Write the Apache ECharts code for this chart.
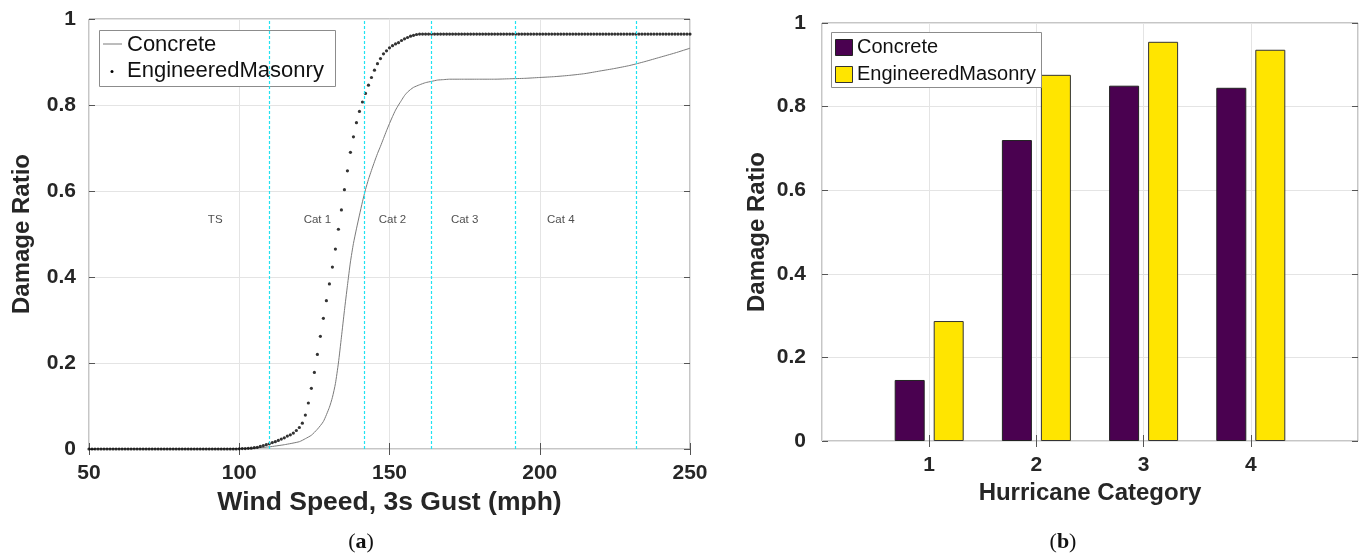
<!DOCTYPE html>
<html>
<head>
<meta charset="utf-8">
<script src="https://cdn.jsdelivr.net/npm/echarts/dist/echarts.min.js"></script>
<style>
  html, body { margin: 0; padding: 0; background: #ffffff; }
  #chart { width: 1363px; height: 558px; }
</style>
</head>
<body>
<div id="chart"></div>
<script>
// ---- (a) damage ratio vs. 3 s gust wind speed ----
const concreteSpeeds = [50, 60, 70, 80, 90, 100, 105, 110, 115, 120, 122, 124, 126, 128, 130,
  131, 132, 133, 134, 135, 136, 137, 138, 139, 140, 141, 142, 143, 144, 145, 146, 147, 148, 149,
  150, 151, 152, 153, 154, 155, 156, 157, 158, 160, 162, 164, 166, 168, 170,
  175, 180, 185, 190, 195, 200, 205, 210, 215, 220, 225, 230, 235, 240, 245, 250];
const concreteRatio = [0, 0, 0, 0, 0, 0.001, 0.002, 0.005, 0.010, 0.017, 0.024, 0.032, 0.046, 0.064, 0.097,
  0.120, 0.152, 0.200, 0.260, 0.322, 0.380, 0.435, 0.478, 0.512, 0.544, 0.575, 0.603, 0.627, 0.648, 0.668, 0.687, 0.704, 0.722, 0.740,
  0.757, 0.773, 0.788, 0.800, 0.811, 0.822, 0.830, 0.836, 0.841, 0.847, 0.852, 0.855, 0.858, 0.859, 0.860,
  0.860, 0.860, 0.860, 0.861, 0.862, 0.864, 0.866, 0.869, 0.873, 0.879, 0.885, 0.892, 0.901, 0.911, 0.921, 0.932];

// Engineered masonry, one sample per mph from 50 to 250
const masonryFirstSpeed = 50;
const masonryRatio = [
  0, 0, 0, 0, 0, 0, 0, 0, 0, 0,
  0, 0, 0, 0, 0, 0, 0, 0, 0, 0,
  0, 0, 0, 0, 0, 0, 0, 0, 0, 0,
  0, 0, 0, 0, 0, 0, 0, 0, 0, 0,
  0, 0, 0, 0, 0, 0, 0, 0, 0, 0,
  0.0005, 0.001, 0.001, 0.0015, 0.002, 0.003, 0.004, 0.006, 0.008, 0.010,
  0.012, 0.015, 0.017, 0.020, 0.023, 0.026, 0.030, 0.033, 0.037, 0.043,
  0.050, 0.060, 0.079, 0.107, 0.141, 0.178, 0.220, 0.262, 0.304, 0.345,
  0.384, 0.423, 0.465, 0.511, 0.556, 0.603, 0.647, 0.690, 0.726, 0.759,
  0.785, 0.807, 0.827, 0.846, 0.864, 0.881, 0.896, 0.908, 0.919, 0.926,
  0.933, 0.938, 0.942, 0.945, 0.950, 0.954, 0.957, 0.960, 0.962, 0.964,
  0.965, 0.965, 0.965, 0.965, 0.965, 0.965, 0.965, 0.965, 0.965, 0.965,
  0.965, 0.965, 0.965, 0.965, 0.965, 0.965, 0.965, 0.965, 0.965, 0.965,
  0.965, 0.965, 0.965, 0.965, 0.965, 0.965, 0.965, 0.965, 0.965, 0.965,
  0.965, 0.965, 0.965, 0.965, 0.965, 0.965, 0.965, 0.965, 0.965, 0.965,
  0.965, 0.965, 0.965, 0.965, 0.965, 0.965, 0.965, 0.965, 0.965, 0.965,
  0.965, 0.965, 0.965, 0.965, 0.965, 0.965, 0.965, 0.965, 0.965, 0.965,
  0.965, 0.965, 0.965, 0.965, 0.965, 0.965, 0.965, 0.965, 0.965, 0.965,
  0.965, 0.965, 0.965, 0.965, 0.965, 0.965, 0.965, 0.965, 0.965, 0.965,
  0.965, 0.965, 0.965, 0.965, 0.965, 0.965, 0.965, 0.965, 0.965, 0.965,
  0.965
];

// Saffir-Simpson class boundaries (3 s gust, mph) and zone labels
const categoryBounds = [110, 141.5, 164, 192, 232];
const zoneNames = ['TS', 'Cat 1', 'Cat 2', 'Cat 3', 'Cat 4'];
const zoneLabelSpeeds = [92, 126, 151, 175, 207];
const zoneLabelLevel = 0.533;

// ---- (b) damage ratio per hurricane category ----
const hurricaneCategories = ['1', '2', '3', '4'];
const concreteByCategory = [0.146, 0.720, 0.850, 0.845];
const masonryByCategory = [0.287, 0.876, 0.955, 0.936];

const seriesNames = ['Concrete', 'EngineeredMasonry'];

// ---------------------------------------------------------------
const FONT = 'Liberation Sans';
const INK = '#262626';
const FRAME = '#8c8c8c';
const GRIDLINE = '#e4e4e4';
const PURPLE = '#4a0150';
const YELLOW = '#ffe500';
const CYAN = '#1fe3f2';

const concreteData = concreteSpeeds.map((s, i) => [s, concreteRatio[i]]);
const masonryData = masonryRatio.map((v, i) => [masonryFirstSpeed + i, v]);
const zoneData = zoneNames.map((n, i) => ({ name: n, value: [zoneLabelSpeeds[i], zoneLabelLevel] }));
const barAxisCats = [''].concat(hurricaneCategories, ['']);
const padBars = arr => ['-'].concat(arr, ['-']);
const innerCategory = i => i > 0 && i < barAxisCats.length - 1;

const tickLabel = { fontFamily: FONT, fontWeight: 'bold', fontSize: 21, color: INK };
const axisName = { fontFamily: FONT, fontWeight: 'bold', fontSize: 24, color: INK };
const innerTick = { show: true, inside: true, length: 6, lineStyle: { color: '#555', width: 1 } };
const split = { show: true, lineStyle: { color: GRIDLINE, width: 1 } };
const cyanStyle = { color: CYAN, type: [3, 2], width: 1.2 };

// legend box builder: every child carries its own z so it stacks as intended
function legendItems(z, items) {
  return items.map(el => Object.assign({ z: z, silent: true }, el));
}

const option = {
  animation: false,
  backgroundColor: '#ffffff',
  grid: [
    { left: 89, right: 673, top: 19, bottom: 109, show: true, borderColor: FRAME, borderWidth: 1 },
    { left: 822, right: 5, top: 23, bottom: 117, show: true, borderColor: FRAME, borderWidth: 1 }
  ],
  xAxis: [
    {
      gridIndex: 0, type: 'value', min: 50, max: 250, interval: 50,
      axisLine: { show: false }, axisTick: innerTick, splitLine: split,
      axisLabel: Object.assign({ margin: 14 }, tickLabel),
      name: 'Wind Speed, 3s Gust (mph)', nameLocation: 'middle', nameGap: 39,
      nameTextStyle: Object.assign({}, axisName, { fontSize: 26.5 })
    },
    {
      gridIndex: 0, type: 'value', position: 'top', min: 50, max: 250, interval: 50,
      axisLine: { show: false }, axisTick: innerTick, splitLine: { show: false }, axisLabel: { show: false }
    },
    {
      gridIndex: 1, type: 'category', data: barAxisCats, boundaryGap: false,
      axisLine: { show: false }, axisTick: Object.assign({}, innerTick, { interval: innerCategory }),
      splitLine: Object.assign({ interval: 0 }, split),
      axisLabel: Object.assign({ margin: 14, interval: 0 }, tickLabel),
      name: 'Hurricane Category', nameLocation: 'middle', nameGap: 36, nameTextStyle: axisName
    },
    {
      gridIndex: 1, type: 'category', data: barAxisCats, boundaryGap: false, position: 'top',
      axisLine: { show: false }, axisTick: Object.assign({}, innerTick, { interval: innerCategory }),
      splitLine: { show: false }, axisLabel: { show: false }
    }
  ],
  yAxis: [
    {
      gridIndex: 0, type: 'value', min: 0, max: 1, interval: 0.2,
      axisLine: { show: false }, axisTick: innerTick, splitLine: split,
      axisLabel: Object.assign({ margin: 13 }, tickLabel),
      name: 'Damage Ratio', nameLocation: 'middle', nameGap: 55, nameTextStyle: axisName
    },
    {
      gridIndex: 0, type: 'value', position: 'right', min: 0, max: 1, interval: 0.2,
      axisLine: { show: false }, axisTick: innerTick, splitLine: { show: false }, axisLabel: { show: false }
    },
    {
      gridIndex: 1, type: 'value', min: 0, max: 1, interval: 0.2,
      axisLine: { show: false }, axisTick: innerTick, splitLine: split,
      axisLabel: Object.assign({ margin: 16 }, tickLabel),
      name: 'Damage Ratio', nameLocation: 'middle', nameGap: 53, nameTextStyle: axisName
    },
    {
      gridIndex: 1, type: 'value', position: 'right', min: 0, max: 1, interval: 0.2,
      axisLine: { show: false }, axisTick: innerTick, splitLine: { show: false }, axisLabel: { show: false }
    }
  ],
  series: [
    {
      name: seriesNames[0], type: 'line', xAxisIndex: 0, yAxisIndex: 0,
      data: concreteData, showSymbol: false, smooth: 0.2, z: 3,
      lineStyle: { color: '#7a7a7a', width: 1 }
    },
    {
      // category boundaries
      name: 'bounds', type: 'line', xAxisIndex: 0, yAxisIndex: 0, data: [], z: 5,
      markLine: {
        silent: true, symbol: 'none', label: { show: false },
        lineStyle: cyanStyle,
        data: categoryBounds.map(v => ({ xAxis: v, lineStyle: cyanStyle }))
      }
    },
    {
      name: seriesNames[1], type: 'scatter', xAxisIndex: 0, yAxisIndex: 0,
      data: masonryData, symbol: 'circle', symbolSize: 3.2, z: 4,
      itemStyle: { color: '#000000' }
    },
    {
      name: 'zones', type: 'scatter', xAxisIndex: 0, yAxisIndex: 0, silent: true,
      data: zoneData, symbolSize: 0,
      label: {
        show: true, position: 'inside', formatter: '{b}',
        fontFamily: FONT, fontSize: 11.5, color: '#222222'
      }
    },
    {
      name: seriesNames[0], type: 'bar', xAxisIndex: 2, yAxisIndex: 2,
      data: padBars(concreteByCategory), barWidth: 30, barGap: '30%',
      itemStyle: { color: PURPLE, borderColor: '#222222', borderWidth: 1 }
    },
    {
      name: seriesNames[1], type: 'bar', xAxisIndex: 2, yAxisIndex: 2,
      data: padBars(masonryByCategory), barWidth: 30, barGap: '30%',
      itemStyle: { color: YELLOW, borderColor: '#333333', borderWidth: 1 }
    }
  ],
  graphic: [].concat(
    // legend of panel (a)
    legendItems(1, [
      { type: 'rect', shape: { x: 99.5, y: 30.5, width: 236, height: 56 },
        style: { fill: '#ffffff', stroke: FRAME, lineWidth: 1 } },
      { type: 'line', shape: { x1: 103, y1: 44, x2: 122, y2: 44 },
        style: { stroke: '#7a7a7a', lineWidth: 1 } },
      { type: 'circle', shape: { cx: 112, cy: 71.5, r: 1.5 }, style: { fill: '#000000' } },
      { type: 'text', x: 127, y: 45,
        style: { text: seriesNames[0], font: '22px "Liberation Sans"', fill: '#111111', verticalAlign: 'middle' } },
      { type: 'text', x: 127, y: 71,
        style: { text: seriesNames[1], font: '22px "Liberation Sans"', fill: '#111111', verticalAlign: 'middle' } }
    ]),
    // legend of panel (b)
    legendItems(20, [
      { type: 'rect', shape: { x: 831.5, y: 32.5, width: 210, height: 55 },
        style: { fill: '#ffffff', stroke: FRAME, lineWidth: 1 } },
      { type: 'rect', shape: { x: 835.5, y: 39.5, width: 17, height: 16 },
        style: { fill: PURPLE, stroke: '#222222', lineWidth: 1 } },
      { type: 'rect', shape: { x: 835.5, y: 66.5, width: 17, height: 16 },
        style: { fill: YELLOW, stroke: '#333333', lineWidth: 1 } },
      { type: 'text', x: 857, y: 47,
        style: { text: seriesNames[0], font: '20px "Liberation Sans"', fill: '#111111', verticalAlign: 'middle' } },
      { type: 'text', x: 857, y: 74,
        style: { text: seriesNames[1], font: '20px "Liberation Sans"', fill: '#111111', verticalAlign: 'middle' } }
    ]),
    // panel captions
    [
      {
        type: 'text', x: 361, y: 542,
        style: {
          text: '{p|(}{b|a}{p|)}', align: 'center', verticalAlign: 'middle',
          rich: {
            p: { fontFamily: 'Liberation Serif', fontSize: 22, fill: '#111111' },
            b: { fontFamily: 'Liberation Serif', fontSize: 22, fontWeight: 'bold', fill: '#111111' }
          }
        }
      },
      {
        type: 'text', x: 1063, y: 542,
        style: {
          text: '{p|(}{b|b}{p|)}', align: 'center', verticalAlign: 'middle',
          rich: {
            p: { fontFamily: 'Liberation Serif', fontSize: 22, fill: '#111111' },
            b: { fontFamily: 'Liberation Serif', fontSize: 22, fontWeight: 'bold', fill: '#111111' }
          }
        }
      }
    ]
  )
};

const chart = echarts.init(document.getElementById('chart'), null, { renderer: 'canvas' });
chart.setOption(option);
</script>
</body>
</html>
